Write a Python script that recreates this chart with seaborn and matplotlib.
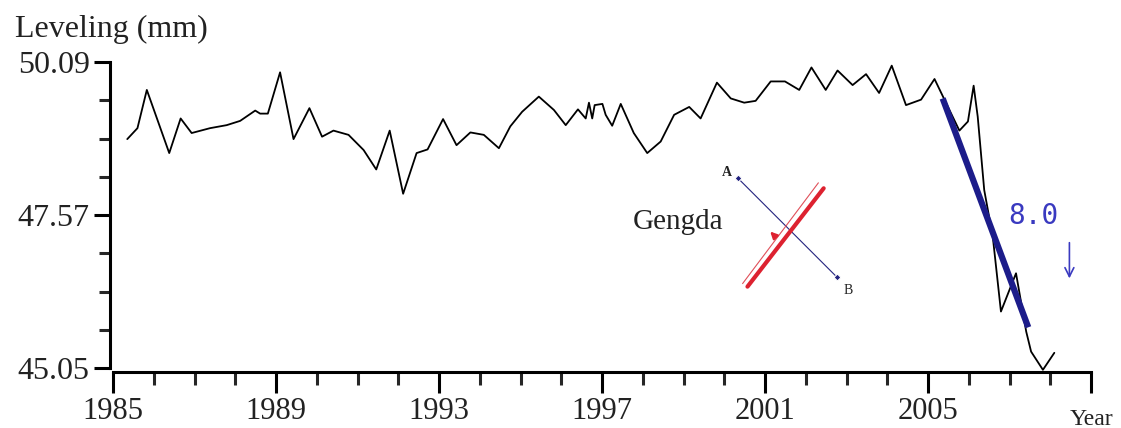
import numpy as np
import pandas as pd
import matplotlib
matplotlib.use("Agg")
import matplotlib.pyplot as plt
import seaborn as sns

# ---------------- data ----------------
years = [1985.35, 1985.60, 1985.83, 1986.38, 1986.66, 1986.93, 1987.38, 1987.79, 1988.12, 1988.49,
         1988.61, 1988.80, 1989.10, 1989.43, 1989.82, 1990.13, 1990.41, 1990.78, 1991.15, 1991.46,
         1991.79, 1992.12, 1992.45, 1992.72, 1993.10, 1993.43, 1993.77, 1994.10, 1994.47, 1994.75,
         1995.04, 1995.45, 1995.82, 1996.11, 1996.41, 1996.60, 1996.68, 1996.76, 1996.82, 1997.01,
         1997.09, 1997.25, 1997.46, 1997.78, 1998.11, 1998.44, 1998.77, 1999.14, 1999.42, 1999.82,
         2000.16, 2000.49, 2000.77, 2001.14, 2001.49, 2001.84, 2002.14, 2002.49, 2002.78, 2003.15,
         2003.48, 2003.80, 2004.11, 2004.46, 2004.83, 2005.16, 2005.77, 2005.98, 2006.12, 2006.22,
         2006.38, 2006.59, 2006.79, 2007.16, 2007.41, 2007.53, 2007.82, 2008.10]
leveling = [48.82, 49.00, 49.63, 48.59, 49.16, 48.92, 49.00, 49.05, 49.12, 49.29,
            49.24, 49.24, 49.92, 48.82, 49.33, 48.86, 48.96, 48.89, 48.64, 48.32,
            48.96, 47.92, 48.59, 48.65, 49.15, 48.72, 48.93, 48.89, 48.67, 49.03,
            49.27, 49.52, 49.30, 49.05, 49.31, 49.16, 49.42, 49.16, 49.38, 49.40,
            49.22, 49.04, 49.40, 48.92, 48.59, 48.78, 49.22, 49.35, 49.16, 49.75,
            49.49, 49.42, 49.45, 49.77, 49.77, 49.63, 50.00, 49.63, 49.95, 49.71,
            49.89, 49.58, 50.03, 49.38, 49.47, 49.81, 48.96, 49.11, 49.70, 49.19,
            47.98, 47.21, 45.98, 46.61, 45.65, 45.32, 45.02, 45.30]

trend_years = [2005.36, 2007.46]
trend_values = [49.49, 45.72]
trend_label = "8.0"

ab_years = [2000.33, 2002.76]
ab_values = [48.18, 46.55]
ab_labels = ["A", "B"]

fault_years = [2000.57, 2002.44]
fault_values = [46.39, 48.01]
fault_edge_years = [2000.45, 2002.31]
fault_edge_values = [46.44, 48.10]

site_name = "Gengda"

ytick_major = [45.05, 47.57, 50.09]
ytick_labels = ["45.05", "47.57", "50.09"]
xtick_major = [1985, 1989, 1993, 1997, 2001, 2005, 2009]
xtick_labels = ["1985", "1989", "1993", "1997", "2001", "2005", ""]

# ---------------- style ----------------
sns.set_style("white")
plt.rcParams['font.family'] = ['Liberation Serif', 'DejaVu Serif']

W, H = 1121, 428
fig = plt.figure(figsize=(W / 100, H / 100), dpi=100)
ax = fig.add_axes([113 / W, (H - 368) / H, (1091 - 113) / W, (368 - 62) / H])

df = pd.DataFrame({"Year": years, "Leveling": leveling})
sns.lineplot(data=df, x="Year", y="Leveling", sort=False, estimator=None,
             color="black", lw=1.3, ax=ax, clip_on=False)

tdf = pd.DataFrame({"Year": trend_years, "Leveling": trend_values})
sns.lineplot(data=tdf, x="Year", y="Leveling", sort=False, estimator=None,
             color="#1c1c8a", lw=4.5, ax=ax, solid_capstyle="butt")

# A-B profile line
abdf = pd.DataFrame({"Year": ab_years, "Leveling": ab_values})
sns.lineplot(data=abdf, x="Year", y="Leveling", sort=False, estimator=None,
             color="#23237f", lw=0.8, marker="D", markersize=3.5, ax=ax)
ax.text(ab_years[0] - 0.27, ab_values[0] + 0.09, ab_labels[0], fontsize=10,
        ha="center", va="center", fontweight="bold", color="#222222")
ax.text(ab_years[1] + 0.27, ab_values[1] - 0.22, ab_labels[1], fontsize=10,
        ha="center", va="center", color="#222222")

# fault symbol
fdf = pd.DataFrame({"Year": fault_years, "Leveling": fault_values})
sns.lineplot(data=fdf, x="Year", y="Leveling", sort=False, estimator=None,
             color="#dd2230", lw=3.0, ax=ax)
fedf = pd.DataFrame({"Year": fault_edge_years, "Leveling": fault_edge_values})
sns.lineplot(data=fedf, x="Year", y="Leveling", sort=False, estimator=None,
             color="#e0505a", lw=0.8, ax=ax)
ax.annotate("", xy=(2001.08, 47.33), xytext=(2001.27, 47.20),
            arrowprops=dict(arrowstyle="-|>", color="#dd2230", lw=1.6, mutation_scale=10))

ax.text(1998.86, 47.455, site_name, fontsize=21, ha="center", va="center", color="#222222")

ax.text(2007.58, 47.56, trend_label, fontsize=20, ha="center", va="center",
        color="#3a3ac0", family="DejaVu Sans Mono")
ax.annotate("", xy=(2008.47, 46.48), xytext=(2008.47, 47.16),
            arrowprops=dict(arrowstyle="->", color="#3a3ac0", lw=1.2, mutation_scale=16))

# ---------------- axes ----------------
ax.set_xlim(1985, 2009)
ax.set_ylim(45.05, 50.09)
ax.set_xlabel("")
ax.set_ylabel("")

for s in ["top", "right"]:
    ax.spines[s].set_visible(False)
ax.spines["left"].set_position(("outward", 2.2))
ax.spines["bottom"].set_position(("outward", 2.9))
ax.spines["left"].set_linewidth(2.2)
ax.spines["bottom"].set_linewidth(2.2)
ax.spines["left"].set_color("black")
ax.spines["bottom"].set_color("black")

ax.set_xticks(xtick_major)
ax.set_xticklabels(xtick_labels)
ax.set_xticks(list(range(1985, 2010)), minor=True)
ax.set_yticks(ytick_major)
ax.set_yticklabels(ytick_labels)
ax.set_yticks([45.05 + 0.63 * i for i in range(9)], minor=True)

ax.tick_params(axis="x", which="major", direction="out", length=15, width=2.2,
               labelsize=22, pad=3, colors="black", bottom=True)
ax.tick_params(axis="x", which="minor", direction="out", length=9.5, width=2.2, bottom=True)
ax.tick_params(axis="y", which="major", direction="out", length=11.5, width=2.2,
               labelsize=23, pad=3, colors="black", left=True)
ax.tick_params(axis="y", which="minor", direction="out", length=8, width=2.2, left=True)
for lab in ax.get_xticklabels() + ax.get_yticklabels():
    lab.set_color("#222222")

fig.text(15 / W, 1 - 37 / H, "Leveling (mm)", fontsize=23, ha="left", va="baseline", color="#222222")
fig.text(1091 / W, 1 - 425 / H, "Year", fontsize=17, ha="center", va="baseline", color="#222222")

fig.savefig("out.png", dpi=100, facecolor="white")
